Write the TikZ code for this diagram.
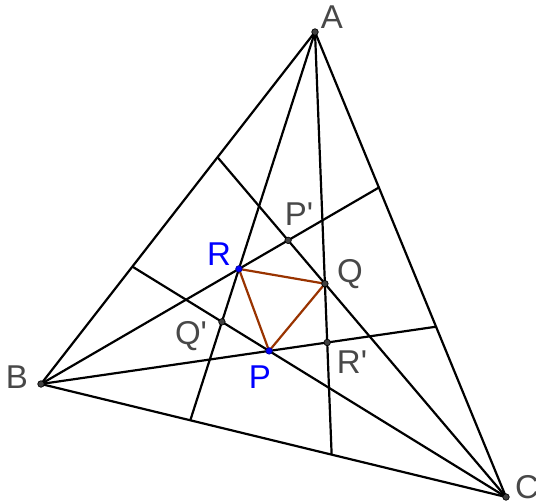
\documentclass[tikz,border=0pt]{standalone}
\usepackage{fontspec}
\setmainfont{Liberation Sans}
\definecolor{lbl}{RGB}{72,72,72}
\definecolor{brn}{RGB}{153,51,0}
\begin{document}
\begin{tikzpicture}[x=1pt,y=-1pt,
  seg/.style={line width=2.2pt,black},
  tri/.style={line width=2.2pt,brn},
  pt/.style={circle,inner sep=0pt,minimum size=6.5pt,draw=black,fill=black!75,line width=0.7pt},
  bpt/.style={circle,inner sep=0pt,minimum size=6.5pt,draw=blue!60!black,fill=blue,line width=0.7pt},
  lab/.style={text=lbl,font=\fontsize{33}{38}\selectfont,inner sep=0pt},
  blab/.style={text=blue,font=\fontsize{33}{38}\selectfont,inner sep=0pt}]
\useasboundingbox (0,0) rectangle (536,501);
\coordinate (A) at (315,32);
\coordinate (B) at (41,384);
\coordinate (C) at (506,497);
\coordinate (R) at (238.9,268.9);
\coordinate (Q) at (324.9,283.7);
\coordinate (P) at (269.1,350.9);
\coordinate (Pp) at (intersection of B--R and C--Q);
\coordinate (Qp) at (intersection of A--R and C--P);
\coordinate (Rp) at (intersection of A--Q and B--P);
\coordinate (A1) at (intersection of A--R and B--C);
\coordinate (A2) at (intersection of A--Q and B--C);
\coordinate (B1) at (intersection of B--R and A--C);
\coordinate (B2) at (intersection of B--P and A--C);
\coordinate (C1) at (intersection of C--Q and A--B);
\coordinate (C2) at (intersection of C--P and A--B);
% sides
\draw[seg,line join=round] (A) -- (B) -- (C) -- cycle;
% trisectors
\draw[seg] (A) -- (A1);
\draw[seg] (A) -- (A2);
\draw[seg] (B) -- (B1);
\draw[seg] (B) -- (B2);
\draw[seg] (C) -- (C1);
\draw[seg] (C) -- (C2);
% Morley triangle
\draw[tri,line join=round] (P) -- (Q) -- (R) -- cycle;
% points
\node[pt] (nA) at (A) {};
\node[pt] (nB) at (B) {};
\node[pt] (nC) at (C) {};
\node[pt] (nQ) at (Q) {};
\node[pt] (nPp) at (Pp) {};
\node[pt] (nQp) at (Qp) {};
\node[pt] (nRp) at (Rp) {};
\node[bpt] (nR) at (R) {};
\node[bpt] (nP) at (P) {};
% labels
\node[lab] (lA) at (332,17) {A};
\node[lab] (lB) at (17,377) {B};
\node[lab] (lC) at (527,487) {C};
\node[lab] (lQ) at (350,274) {Q};
\node[lab] (lPp) at (299,214) {P\textquotesingle};
\node[lab] (lQp) at (191,336) {Q\textquotesingle};
\node[lab] (lRp) at (352,362) {R\textquotesingle};
\node[blab] (lR) at (219,254) {R};
\node[blab] (lP) at (260,377) {P};
\end{tikzpicture}
\end{document}
